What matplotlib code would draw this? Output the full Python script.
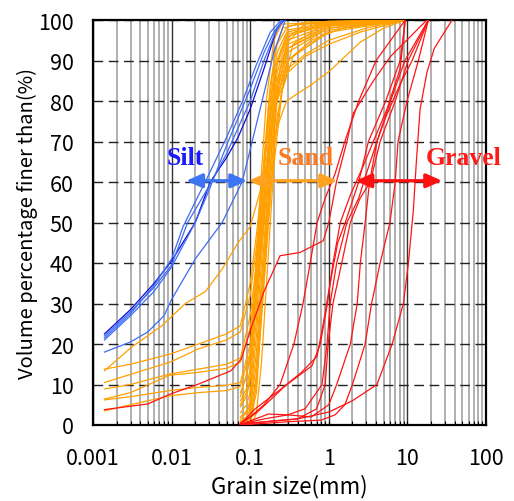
import matplotlib
matplotlib.use("Agg")
import matplotlib.pyplot as plt
from matplotlib.ticker import FixedLocator, FixedFormatter, LogLocator, NullFormatter

plt.rcParams['font.family'] = ['Noto Sans CJK JP', 'DejaVu Sans']

# grain size (mm) / percent finer, one list per curve
silt_sizes = [
    [0.0014, 0.003, 0.006, 0.01, 0.02, 0.031, 0.05, 0.07, 0.1, 0.15, 0.22, 0.27],
    [0.0014, 0.003, 0.006, 0.01, 0.016, 0.03, 0.05, 0.1, 0.15, 0.2, 0.26],
    [0.0014, 0.003, 0.006, 0.01, 0.02, 0.03, 0.05, 0.1, 0.15, 0.2, 0.26],
    [0.0014, 0.003, 0.006, 0.01, 0.014, 0.03, 0.05, 0.08, 0.12, 0.18, 0.25],
    [0.0014, 0.003, 0.005, 0.008, 0.01, 0.02, 0.044, 0.079, 0.1, 0.15, 0.2, 0.28],
]
silt_pct = [
    [22.5, 28.5, 35, 40.5, 50, 60, 66, 71, 78, 88, 98, 100],
    [22, 28, 34, 39.5, 50, 59, 67, 80, 90, 96, 100],
    [21, 27, 33, 39, 50, 58, 69, 83, 92, 97, 100],
    [21.5, 27.5, 34.5, 41, 49, 62, 71, 80, 89, 97, 100],
    [18, 20.5, 23, 27, 31, 41, 50, 60, 68, 82, 92, 100],
]
silt_dark = [True, False, False, False, False]

sand_sizes = [
    [0.0014, 0.003, 0.0075, 0.015, 0.027, 0.044, 0.07, 0.1, 0.14, 0.19, 0.29, 0.39, 0.6, 1.04, 2.5, 5, 9.4],
    [0.0014, 0.003, 0.0095, 0.022, 0.05, 0.075, 0.1, 0.12, 0.15, 0.2, 0.25, 0.4, 1, 9.4],
    [0.0014, 0.003, 0.0095, 0.022, 0.05, 0.075, 0.1, 0.12, 0.15, 0.2, 0.3, 0.5, 1, 2.5, 9.4],
    [0.0014, 0.003, 0.0095, 0.022, 0.05, 0.075, 0.1, 0.12, 0.15, 0.2, 0.3, 0.5, 1, 3, 9.4],
    [0.0014, 0.003, 0.0095, 0.022, 0.05, 0.075, 0.1, 0.12, 0.15, 0.2, 0.3, 0.6, 1.5, 9.4],
    [0.0014, 0.003, 0.0095, 0.022, 0.05, 0.075, 0.1, 0.12, 0.15, 0.2, 0.3, 1, 9.4],
    [0.0014, 0.003, 0.0095, 0.022, 0.05, 0.075, 0.1, 0.12, 0.15, 0.2, 0.3, 1, 9.4],
    [0.075, 0.09, 0.1, 0.12, 0.15, 0.18, 0.22, 0.3, 1, 9.4],
    [0.075, 0.09, 0.1, 0.12, 0.15, 0.18, 0.22, 0.3, 1, 9.4],
    [0.075, 0.09, 0.1, 0.12, 0.15, 0.18, 0.22, 0.3, 1, 9.4],
    [0.075, 0.09, 0.1, 0.12, 0.15, 0.18, 0.22, 0.3, 1, 9.4],
    [0.075, 0.09, 0.1, 0.12, 0.15, 0.18, 0.22, 0.3, 1, 9.4],
    [0.075, 0.09, 0.1, 0.12, 0.15, 0.18, 0.22, 0.3, 1, 9.4],
    [0.075, 0.09, 0.1, 0.12, 0.15, 0.18, 0.22, 0.3, 1, 9.4],
    [0.075, 0.09, 0.1, 0.12, 0.15, 0.18, 0.22, 0.3, 1, 9.4],
    [0.075, 0.09, 0.1, 0.12, 0.15, 0.18, 0.22, 0.3, 1, 9.4],
    [0.075, 0.1, 0.12, 0.14, 0.17, 0.2, 0.25, 0.35, 1, 9.4],
    [0.075, 0.09, 0.1, 0.12, 0.14, 0.17, 0.21, 0.26, 0.5, 9.4],
    [0.075, 0.1, 0.12, 0.14, 0.16, 0.2, 0.25, 9.4],
    [0.1, 0.11, 0.13, 0.16, 0.19, 0.24, 0.32, 0.5, 9.4],
    [0.105, 0.12, 0.14, 0.17, 0.2, 0.26, 0.35, 0.8, 9.4],
]
sand_pct = [
    [13.4, 19, 24.5, 30, 33, 38.5, 45, 49, 59, 70, 80, 81.7, 84, 87.5, 94.5, 98, 100],
    [13.8, 15, 17.5, 20, 22.5, 24.5, 35, 47, 64, 86, 93, 97, 99, 100],
    [10.5, 12.5, 15.5, 18.8, 21, 23, 32, 44, 60, 78, 87, 91, 94, 97, 100],
    [8.9, 10, 12.6, 13.8, 15, 16.5, 27, 40, 57, 80, 88, 91.5, 95, 98, 100],
    [6.4, 8, 12.3, 13, 14, 15.5, 24, 37, 54, 78, 90, 95, 98, 100],
    [6.2, 7, 8.5, 9.3, 9.8, 10.5, 20, 34, 52, 80, 93, 98, 100],
    [3.5, 5, 7.2, 8, 8.5, 9.5, 18, 32, 50, 82, 94, 98.5, 100],
    [8, 12, 18, 40, 66, 84, 94, 98.5, 99.7, 100],
    [6, 9, 14, 35, 62, 80, 92, 97.5, 99.5, 100],
    [4.5, 7, 11, 30, 57, 76, 90, 97, 99.4, 100],
    [3, 5, 8, 26, 55, 75, 89, 96.5, 99.2, 100],
    [2, 3.5, 6, 22, 50, 72, 87, 96, 99, 100],
    [1.5, 3, 5, 18, 45, 68, 85, 95, 98.8, 100],
    [1, 2, 4, 15, 42, 64, 82, 93, 98.5, 100],
    [0.8, 1.5, 3, 12, 38, 60, 80, 92, 98, 100],
    [0.5, 1, 2, 10, 35, 56, 76, 90, 97.5, 100],
    [0.3, 1.5, 8, 28, 50, 68, 82, 91, 97, 100],
    [5, 8, 12, 34, 55, 78, 93, 98, 99.5, 100],
    [7, 16, 42, 63, 80, 95, 99, 100],
    [0, 4, 20, 48, 70, 88, 96, 99, 100],
    [0, 3, 16, 42, 64, 84, 94, 98.5, 100],
]

gravel_sizes = [
    [0.0014, 0.005, 0.0095, 0.022, 0.057, 0.077, 0.105, 0.15, 0.24, 0.43, 0.85, 1.0, 1.25, 1.7, 2.05, 3.7, 6.1, 17.7],
    [0.075, 0.1, 0.15, 0.24, 0.36, 0.47, 0.58, 0.71, 0.9, 1.2, 1.6, 2.4, 4, 9.4],
    [0.075, 0.12, 0.2, 0.29, 0.45, 0.71, 0.85, 1.04, 1.3, 1.62, 2.4, 3.19, 5.3, 8.1, 9.4],
    [0.075, 0.116, 0.28, 0.61, 0.78, 0.96, 1.13, 1.4, 1.9, 2.75, 3.68, 5.5, 8.1, 9.4],
    [0.075, 0.15, 0.3, 0.5, 0.82, 0.95, 1.04, 1.26, 1.7, 2.4, 3.0, 4.1, 6.1, 9.3, 18.5],
    [0.075, 0.2, 0.4, 0.7, 0.9, 0.98, 1.13, 1.46, 1.88, 2.5, 3.37, 4.5, 7, 10.2, 18.5],
    [0.075, 0.17, 0.3, 0.6, 1.0, 1.26, 1.88, 2.3, 2.52, 2.9, 3.3, 4.1, 5.3, 8, 11.5, 18.5],
    [0.075, 0.3, 0.8, 1.2, 1.6, 2.0, 2.9, 3.5, 4.5, 6, 7, 7.6, 9.9, 13.8, 18.5],
    [0.075, 0.4, 1, 2, 4.1, 6.4, 8.9, 10.3, 11.9, 13, 14.5, 17.7, 22, 37],
]
gravel_pct = [
    [3.8, 5.2, 7.6, 10.1, 13.4, 16.3, 24.5, 33, 41.8, 42.6, 45.5, 50, 60, 70, 77, 85, 91, 100],
    [0.5, 2, 5, 10, 20, 30, 40, 50, 56, 62, 70, 80, 90, 100],
    [0.3, 3, 7, 10, 13, 17, 25, 35, 45, 50, 60, 70, 80, 90, 100],
    [0.2, 4, 9.7, 14.6, 20, 30, 40, 50, 57, 64, 70, 78, 88, 100],
    [0.2, 1.5, 2.5, 4, 10, 20, 30, 40, 50, 56, 62, 70, 80, 90, 100],
    [0.1, 1, 1.5, 4, 10, 20, 30, 40, 50, 56, 60, 70, 80, 90, 100],
    [0.1, 2.7, 2.5, 2, 5, 10, 20, 30, 40, 50, 60, 70, 76, 84, 90, 100],
    [0, 0.8, 1.2, 2.5, 5, 10, 20, 30, 40, 50, 60, 70, 80, 90, 100],
    [0.3, 1.5, 3.2, 6, 10, 20, 30, 40, 53, 65, 78, 87, 93, 100],
]

x_ticks = [0.001, 0.01, 0.1, 1, 10, 100]
x_labels = ['0.001', '0.01', '0.1', '1', '10', '100']
y_ticks = list(range(0, 101, 10))

# class labels and arrow ranges at 60%
class_names = ['Silt', 'Sand', 'Gravel']
class_text_x = [0.0149, 0.509, 52.5]
class_arrow_from = [0.0153, 0.095, 2.18]
class_arrow_to = [0.0916, 1.28, 27.7]
class_text_colors = ['#1a1aff', '#ff7a1e', '#ff1a1a']
class_arrow_colors = ['#3d74f2', '#ffa21f', '#ff1010']


def main():
    fig = plt.figure(figsize=(5.14, 5.02), dpi=100)
    ax = fig.add_axes([93 / 514, 76 / 502, 393 / 514, 405 / 502])

    for d, p in zip(sand_sizes, sand_pct):
        ax.plot(d, p, color='#ffa000', lw=0.9, zorder=3)
    for d, p in zip(gravel_sizes, gravel_pct):
        ax.plot(d, p, color='#ff1414', lw=0.9, zorder=4)
    for d, p, dark in zip(silt_sizes, silt_pct, silt_dark):
        ax.plot(d, p, color='#0a0ae0' if dark else '#3f6cf5', lw=0.9, zorder=5)

    ax.set_xscale('log')
    ax.set_xlim(0.001, 100)
    ax.set_ylim(0, 100)

    ax.xaxis.set_major_locator(FixedLocator(x_ticks))
    ax.xaxis.set_major_formatter(FixedFormatter(x_labels))
    ax.xaxis.set_minor_locator(LogLocator(base=10, subs=range(2, 10)))
    ax.xaxis.set_minor_formatter(NullFormatter())
    ax.set_yticks(y_ticks)

    ax.grid(which='minor', axis='x', color='#a9a9a9', lw=1.3, zorder=1)
    ax.grid(which='major', axis='x', color='#333333', lw=1.0, zorder=1)
    ax.grid(which='major', axis='y', color='#222222', lw=1.0, ls=(0, (7, 4)), zorder=1)
    ax.set_axisbelow(True)

    ax.tick_params(axis='x', which='both', direction='in', length=3, width=0.8,
                   labelsize=15.5, pad=16)
    ax.tick_params(axis='y', length=0, labelsize=15.5, pad=14)
    for s in ax.spines.values():
        s.set_linewidth(1.6)

    ax.set_xlabel('Grain size(mm)', fontsize=16, labelpad=3)
    ax.set_ylabel('Volume percentage finer than(%)', fontsize=14.5, labelpad=0)

    for name, tx, x0, x1, tc, ac in zip(class_names, class_text_x, class_arrow_from,
                                        class_arrow_to, class_text_colors, class_arrow_colors):
        ax.annotate('', xy=(x1, 60.3), xytext=(x0, 60.3),
                    arrowprops=dict(arrowstyle='<|-|>,head_length=0.95,head_width=0.42',
                                    color=ac, lw=2.4, shrinkA=0, shrinkB=0), zorder=6)
        ax.text(tx, 66, name, color=tc, fontsize=18.5, fontweight='bold',
                family='Liberation Serif', ha='center', va='center', zorder=7)

    fig.savefig('out.png', dpi=100)


if __name__ == "__main__":
    main()
